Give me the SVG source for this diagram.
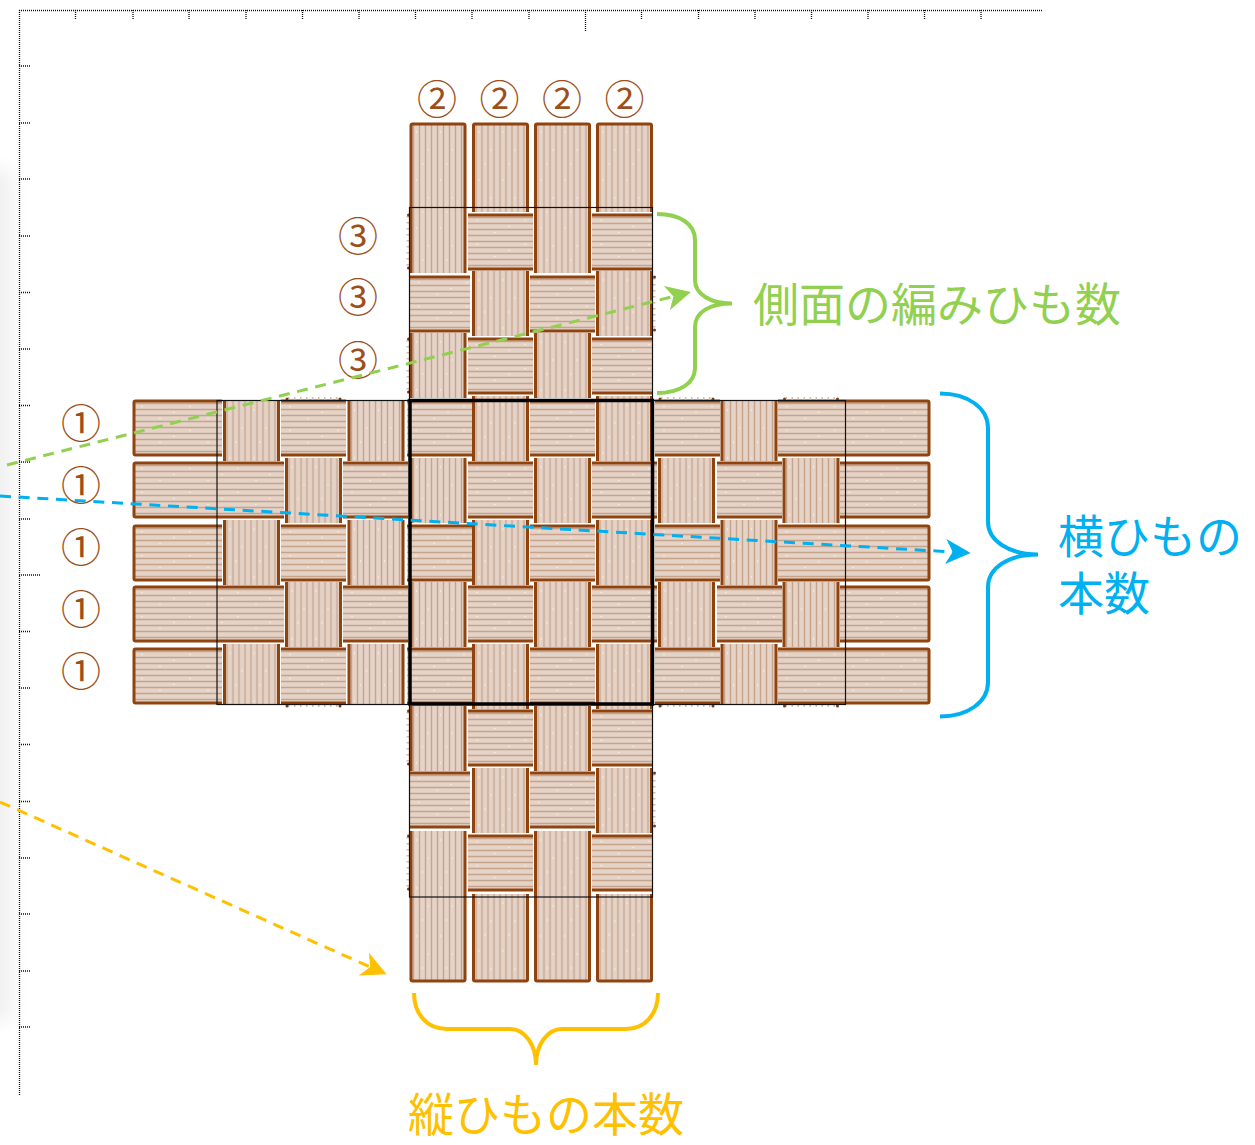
<svg xmlns="http://www.w3.org/2000/svg" width="1255" height="1145" viewBox="0 0 1255 1145">
<style>
.band{stroke:#8f4410;stroke-width:3;stroke-linejoin:round}
.b{fill:none}
.ruler{fill:none;stroke:#111;stroke-width:1.3;stroke-dasharray:1 1}
.thin{fill:none;stroke:#111;stroke-width:1.2}
.con{fill:none;stroke-width:3;stroke-dasharray:11 7.7}
.brace{fill:none;stroke-width:4;stroke-linecap:butt}
text{font-family:"Noto Sans CJK JP","Noto Sans",sans-serif}
.lab{font-size:46px}
.num{font-size:40px;fill:#9c4f1b;text-anchor:middle}
</style>
<defs>
<filter id="blur" x="-100%" y="-10%" width="300%" height="120%"><feGaussianBlur stdDeviation="9"/></filter>
<pattern id="ph" width="48" height="24" patternUnits="userSpaceOnUse">
<rect width="48" height="24" fill="#e5d3c8"/>
<path d="M0 3.500H48M0 9.500H48M0 15.500H48M0 21.500H48" stroke="#c6a48c" stroke-width="1.400"/>
<circle cx="9" cy="6.500" r=".7" fill="#fbf7dc"/><circle cx="27" cy="18.500" r=".7" fill="#fbf7dc"/><circle cx="41" cy="12.500" r=".7" fill="#fbf7dc"/>
</pattern>
<pattern id="pv" width="24" height="48" patternUnits="userSpaceOnUse">
<rect width="24" height="48" fill="#e5d3c8"/>
<path d="M3.500 0V48M9.500 0V48M15.500 0V48M21.500 0V48" stroke="#c6a48c" stroke-width="1.400"/>
<circle cx="6.500" cy="9" r=".7" fill="#fbf7dc"/><circle cx="18.500" cy="27" r=".7" fill="#fbf7dc"/><circle cx="12.500" cy="41" r=".7" fill="#fbf7dc"/>
</pattern>
<g id="h"><rect width="65" height="56" fill="url(#ph)"/><path class="band b" d="M0 1H65M0 55H65"/></g>
<g id="h60"><rect width="60" height="56" fill="url(#ph)"/><path class="band b" d="M0 1H60M0 55H60"/></g>
<g id="v"><rect width="56" height="65" fill="url(#pv)"/><path class="band b" d="M1 0V65M55 0V65"/></g>
<g id="v60"><rect width="56" height="60" fill="url(#pv)"/><path class="band b" d="M1 0V60M55 0V60"/></g>
<path id="l89" class="band" fill="url(#ph)" d="M89 1H2.500Q1 1 1 2.500V53.500Q1 55 2.500 55H89"/>
<path id="l151" class="band" fill="url(#ph)" d="M151 1H2.500Q1 1 1 2.500V53.500Q1 55 2.500 55H151"/>
<path id="r151" class="band" fill="url(#ph)" d="M0 1H149.500Q151 1 151 2.500V53.500Q151 55 149.500 55H0"/>
<path id="r89" class="band" fill="url(#ph)" d="M0 1H87.500Q89 1 89 2.500V53.500Q89 55 87.500 55H0"/>
<path id="tA" class="band" fill="url(#pv)" d="M1 150V2.500Q1 1 2.500 1H53.500Q55 1 55 2.500V150"/>
<path id="tB" class="band" fill="url(#pv)" d="M1 89V2.500Q1 1 2.500 1H53.500Q55 1 55 2.500V89"/>
<path id="bA" class="band" fill="url(#pv)" d="M1 0V148.500Q1 150 2.500 150H53.500Q55 150 55 148.500V0"/>
<path id="bB" class="band" fill="url(#pv)" d="M1 0V85.500Q1 87 2.500 87H53.500Q55 87 55 85.500V0"/>
<g id="pt"><path d="M2 1.500H53" stroke="#d9bba6" stroke-width="3" stroke-dasharray="1.500 4.500"/><circle cx="1" cy="2" r="1.500" fill="#7a3a10"/><circle cx="54" cy="2" r="1.500" fill="#7a3a10"/></g>
<g id="ps"><path d="M1.500 2V53" stroke="#d9bba6" stroke-width="3" stroke-dasharray="1.500 4.500"/><circle cx="2" cy="1" r="1.500" fill="#7a3a10"/><circle cx="2" cy="54" r="1.500" fill="#7a3a10"/></g>
<marker id="ag" markerUnits="userSpaceOnUse" markerWidth="26" markerHeight="26" refX="7" refY="13" orient="auto"><path d="M0 .5L25 13L0 25.500L7 13Z" fill="#92d050"/></marker>
<marker id="ab" markerUnits="userSpaceOnUse" markerWidth="26" markerHeight="26" refX="7" refY="13" orient="auto"><path d="M0 .5L25 13L0 25.500L7 13Z" fill="#00b0f0"/></marker>
<marker id="ay" markerUnits="userSpaceOnUse" markerWidth="26" markerHeight="26" refX="7" refY="13" orient="auto"><path d="M0 .5L25 13L0 25.500L7 13Z" fill="#ffc000"/></marker>
</defs>

<rect width="1255" height="1145" fill="#fff"/>
<rect id="shadow" x="-30" y="170" width="42" height="850" fill="#f0f0f0" filter="url(#blur)"/>

<g id="ruler">
<path class="ruler" d="M19 10.500H1042M19.500 10V1095"/>
<path class="ruler" d="M75.500 10V20M133 10V20M189 10V20M246 10V20M302.500 10V20M359 10V20M415.500 10V20M472 10V20M529 10V20M585.500 10V31M641.500 10V20M698.500 10V20M755 10V20M811.500 10V20M868 10V20M924.500 10V20M981 10V20"/>
<path class="ruler" d="M19 66H30M19 123H30M19 179H30M19 236H30M19 292.500H30M19 349H30M19 405.500H30M19 462H30M19 519H30M19 575H41M19 631.500H30M19 688H30M19 744.500H30M19 801.500H30M19 858H30M19 914H30M19 971H30M19 1027H30"/>
</g>

<g id="weave">
<use href="#tA" x="410" y="123"/><use href="#tB" x="472.500" y="123"/><use href="#tA" x="534.500" y="123"/><use href="#tB" x="596.500" y="123"/>
<use href="#bA" x="410" y="831"/><use href="#bB" x="472.500" y="894"/><use href="#bA" x="534.500" y="831"/><use href="#bB" x="596.500" y="894"/>
<use href="#h" x="468" y="214"/><use href="#h60" x="592" y="214"/>
<use href="#h60" x="410" y="276"/><use href="#h" x="530" y="276"/>
<use href="#v" x="472.500" y="271"/><use href="#v" x="596.500" y="271"/>
<use href="#h" x="468" y="338"/><use href="#h60" x="592" y="338"/>
<use href="#v" x="410" y="333"/><use href="#v" x="534.500" y="333"/>
<use href="#l89" x="133" y="400"/><use href="#v60" x="223.500" y="401"/><use href="#h" x="281" y="400"/><use href="#v60" x="348" y="401"/><use href="#h" x="407" y="400"/><use href="#v" x="472.500" y="396"/><use href="#h" x="530" y="400"/><use href="#v" x="596.500" y="396"/><use href="#h" x="655" y="400"/><use href="#v60" x="721" y="401"/><use href="#r151" x="778" y="400"/>
<use href="#l151" x="133" y="462"/><use href="#v" x="285.500" y="458"/><use href="#h" x="343" y="462"/><use href="#v" x="410" y="458"/><use href="#h" x="468" y="462"/><use href="#v" x="534.500" y="458"/><use href="#h" x="592" y="462"/><use href="#v" x="658.500" y="458"/><use href="#h" x="717" y="462"/><use href="#v" x="783" y="458"/><use href="#r89" x="840" y="462"/>
<use href="#l89" x="133" y="525"/><use href="#v" x="223.500" y="520"/><use href="#h" x="281" y="525"/><use href="#v" x="348" y="520"/><use href="#h" x="407" y="525"/><use href="#v" x="472.500" y="520"/><use href="#h" x="530" y="525"/><use href="#v" x="596.500" y="520"/><use href="#h" x="655" y="525"/><use href="#v" x="721" y="520"/><use href="#r151" x="778" y="525"/>
<use href="#l151" x="133" y="586"/><use href="#v" x="285.500" y="582"/><use href="#h" x="343" y="586"/><use href="#v" x="410" y="582"/><use href="#h" x="468" y="586"/><use href="#v" x="534.500" y="582"/><use href="#h" x="592" y="586"/><use href="#v" x="658.500" y="582"/><use href="#h" x="717" y="586"/><use href="#v" x="783" y="582"/><use href="#r89" x="840" y="586"/>
<use href="#l89" x="133" y="648"/><use href="#v60" x="223.500" y="644"/><use href="#h" x="281" y="648"/><use href="#v60" x="348" y="644"/><use href="#h" x="407" y="648"/><use href="#v" x="472.500" y="644"/><use href="#h" x="530" y="648"/><use href="#v" x="596.500" y="644"/><use href="#h" x="655" y="648"/><use href="#v60" x="721" y="644"/><use href="#r151" x="778" y="648"/>
<use href="#v" x="410" y="706"/><use href="#h" x="468" y="710"/><use href="#v" x="534.500" y="706"/><use href="#h60" x="592" y="710"/>
<use href="#h60" x="410" y="772"/><use href="#v" x="472.500" y="768"/><use href="#h" x="530" y="772"/><use href="#v" x="596.500" y="768"/>
<use href="#h" x="468" y="835"/><use href="#h60" x="592" y="835"/>
<use href="#pt" x="286" y="397"/><use href="#pt" x="659" y="397"/><use href="#pt" x="783.500" y="397"/>
<use href="#pt" x="286" y="704"/><use href="#pt" x="659" y="704"/><use href="#pt" x="783.500" y="704"/>
<use href="#ps" x="406.500" y="214"/><use href="#ps" x="406.500" y="338"/><use href="#ps" x="406.500" y="710"/><use href="#ps" x="406.500" y="835"/>
<use href="#ps" x="652.500" y="276"/><use href="#ps" x="652.500" y="772"/>
</g>

<g id="outlines">
<rect class="thin" x="409.500" y="207.500" width="243" height="193"/>
<rect class="thin" x="409.500" y="704" width="243" height="193"/>
<rect class="thin" x="217" y="400.500" width="192.500" height="304"/>
<rect class="thin" x="652.500" y="400.500" width="193" height="304"/>
<rect id="center" x="410" y="400.500" width="242.500" height="303.500" fill="none" stroke="#000" stroke-width="3.500"/>
</g>

<g id="numbers">
<text class="num" x="81" y="437.500">①</text><text class="num" x="81" y="499.500">①</text><text class="num" x="81" y="561.500">①</text><text class="num" x="81" y="624">①</text><text class="num" x="81" y="685.500">①</text>
<text class="num" x="437" y="113.500">②</text><text class="num" x="499.500" y="113.500">②</text><text class="num" x="562" y="113.500">②</text><text class="num" x="624.500" y="113.500">②</text>
<text class="num" x="358" y="250.500">③</text><text class="num" x="358" y="311.500">③</text><text class="num" x="358" y="374.500">③</text>
</g>

<g id="connectors">
<line class="con" stroke="#92d050" x1="7" y1="465" x2="673.500" y2="296.400" marker-end="url(#ag)"/>
<line class="con" stroke="#00b0f0" x1="0" y1="496" x2="952.700" y2="552" marker-end="url(#ab)"/>
<line class="con" stroke="#ffc000" x1="0" y1="802" x2="370.200" y2="967" marker-end="url(#ay)"/>
</g>

<g id="brace-side">
<path class="brace" stroke="#92d050" d="M657 214C680 214 695 224 695 240V280C695 294 710 303.500 732 303.500C710 303.500 695 312 695 327V368C695 383 680 393 657 393"/>
<text class="lab" fill="#92d050" x="753" y="321">側面の編みひも数</text>
</g>
<g id="brace-horizontal">
<path class="brace" stroke="#00b0f0" d="M940 393.500C968 393.500 988 408 988 428V522C988 540 1008 554.500 1038 554.500C1008 554.500 988 568 988 587V682C988 702 968 716.500 940 716.500"/>
<text class="lab" fill="#00b0f0"><tspan x="1058" y="553">横ひもの</tspan><tspan x="1058" y="610">本数</tspan></text>
</g>
<g id="brace-vertical">
<path class="brace" stroke="#ffc000" d="M414 993C414 1014 427 1029 447 1029H510C525 1029 536 1045 536 1065C536 1045 547 1029 562 1029H626C645 1029 658 1014 658 993"/>
<text class="lab" fill="#ffc000" x="408" y="1131">縦ひもの本数</text>
</g>
</svg>
